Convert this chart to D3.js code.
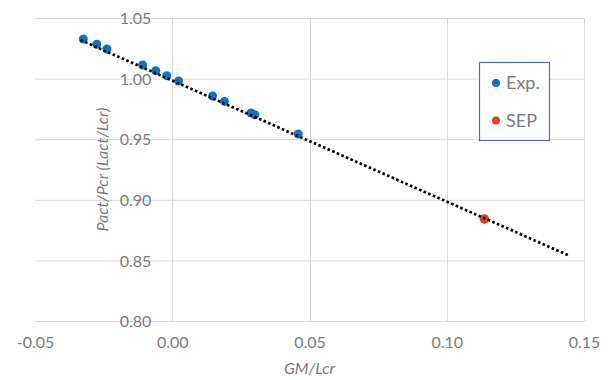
<!DOCTYPE html>
<html><head><meta charset="utf-8">
<script src="https://cdn.jsdelivr.net/npm/d3@7"></script>
<style>body{margin:0;background:#fff}svg{display:block}text{font-family:Lato,"Open Sans",sans-serif}</style>
</head><body>
<svg id="c" width="608" height="380"></svg>
<script>
const expX = [-0.0324,-0.0275,-0.0238,-0.0108,-0.0060,-0.0020,0.0023,0.0147,0.0190,0.0287,0.0301,0.0459];
const expY = [1.0327,1.0283,1.0244,1.0112,1.0065,1.0024,0.9980,0.9856,0.9812,0.9716,0.9702,0.9543];
const sepX = [0.1137];
const sepY = [0.8842];
const trendX = [-0.0334, 0.1449];
const trendY = [1.0318, 0.8536];
const xTicks = [-0.05,0,0.05,0.10,0.15];
const yTicks = [0.80,0.85,0.90,0.95,1.00,1.05];
const seriesNames = ["Exp.","SEP"];
const colors = ["#0F74BE","#E8401E"];

const fmt = d => d.toFixed(2);
const svg = d3.select("#c");
const x = d3.scaleLinear().domain([-0.05,0.15]).range([35,584]);
const y = d3.scaleLinear().domain([0.80,1.05]).range([321,18]);
const grid = "#d9d9d9", txt = "#7c7c7c";

// horizontal grid
svg.append("g").selectAll("line").data(yTicks).join("line")
  .attr("x1",x(-0.05)).attr("x2",x(0.15)).attr("y1",d=>y(d)+0.5).attr("y2",d=>y(d)+0.5)
  .attr("stroke",grid).attr("stroke-width",1);
// vertical grid (excluding left edge)
svg.append("g").selectAll("line").data(xTicks.filter(d=>d>-0.05)).join("line")
  .attr("x1",d=>Math.round(x(d))+0.5).attr("x2",d=>Math.round(x(d))+0.5).attr("y1",y(1.05)).attr("y2",y(0.80))
  .attr("stroke",grid).attr("stroke-width",1);

// y tick labels near x=0 axis
const yAxis = d3.axisLeft(y).tickValues(yTicks).tickFormat(fmt).tickSize(0).tickPadding(21);
const ga = svg.append("g").attr("transform",`translate(${x(0)},0)`).call(yAxis);
ga.select(".domain").remove();
ga.selectAll("text").attr("fill",txt).attr("font-size",16).attr("dy","0.35em");

// x tick labels
const xAxis = d3.axisBottom(x).tickValues(xTicks).tickFormat(fmt).tickSize(0).tickPadding(16);
const gx = svg.append("g").attr("transform",`translate(0,${y(0.80)})`).call(xAxis);
gx.select(".domain").remove();
gx.selectAll("text").attr("fill",txt).attr("font-size",16);

// points
svg.append("g").selectAll("circle").data(expX.map((d,i)=>[d,expY[i]])).join("circle")
  .attr("cx",d=>x(d[0])).attr("cy",d=>y(d[1])).attr("r",4.5).attr("fill",colors[0]);
svg.append("g").selectAll("circle").data(sepX.map((d,i)=>[d,sepY[i]])).join("circle")
  .attr("cx",d=>x(d[0])).attr("cy",d=>y(d[1])).attr("r",4.8).attr("fill",colors[1]);

// trendline
svg.append("path").datum(trendX.map((d,i)=>[d,trendY[i]]))
  .attr("d",d3.line().x(d=>x(d[0])).y(d=>y(d[1])))
  .attr("fill","none").attr("stroke","#000").attr("stroke-width",2.7).attr("stroke-dasharray","2.6 2.4");

// axis titles
svg.append("text").attr("x",(x(-0.05)+x(0.15))/2).attr("y",374).attr("text-anchor","middle")
  .attr("font-style","italic").attr("font-size",16).attr("fill",txt).text("GM/Lcr");
svg.append("text").attr("transform",`translate(108,${y(0.925)}) rotate(-90)`).attr("text-anchor","middle")
  .attr("font-style","italic").attr("font-size",16).attr("fill",txt).text("Pact/Pcr (Lact/Lcr)");

// legend
const lg = svg.append("g");
lg.append("rect").attr("x",479.5).attr("y",62.5).attr("width",70).attr("height",78)
  .attr("fill","#fff").attr("stroke","#4472C4").attr("stroke-width",1.2);
seriesNames.forEach((n,i)=>{
  const cy = 83 + i*37.5;
  lg.append("circle").attr("cx",496).attr("cy",cy).attr("r",4).attr("fill",colors[i]);
  lg.append("text").attr("x",506).attr("y",cy).attr("dy","0.36em").attr("font-size",18).attr("fill",txt).text(n);
});
</script>
</body></html>
